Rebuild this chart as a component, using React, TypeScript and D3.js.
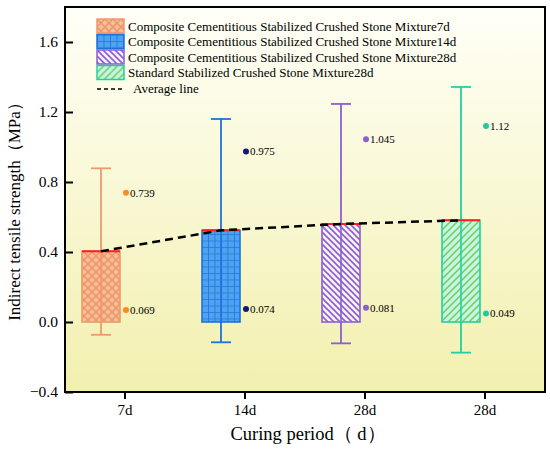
import * as d3 from 'd3';
import React, { useEffect, useRef } from 'react';

const categories = ['7d', '14d', '28d', '28d'];
const seriesNames = [
    'Composite Cementitious Stabilized Crushed Stone Mixture7d',
    'Composite Cementitious Stabilized Crushed Stone Mixture14d',
    'Composite Cementitious Stabilized Crushed Stone Mixture28d',
    'Standard Stabilized Crushed Stone Mixture28d',
];
const means = [0.404, 0.524, 0.56, 0.581];
const whiskerHigh = [0.878, 1.16, 1.246, 1.343];
const whiskerLow = [-0.073, -0.116, -0.122, -0.175];
const maxValues = [0.739, 0.975, 1.045, 1.12];
const minValues = [0.069, 0.074, 0.081, 0.049];
const yTicks = [-0.4, 0, 0.4, 0.8, 1.2, 1.6];

const edgeColors = ['#f0986c', '#1f72db', '#8b5fd3', '#22cfa5'];
const dotColors = ['#ff8a1f', '#101a70', '#8a60d0', '#20c9a0'];
const patternIds = ['pat-cross', 'pat-grid', 'pat-back', 'pat-fwd'];

const width = 550;
const height = 449;
const margin = { top: 7, right: 5, bottom: 57, left: 65 };
const font = '"Liberation Serif", "Times New Roman", serif';

export default function App() {
    const xAxisRef = useRef<SVGGElement>(null);
    const yAxisRef = useRef<SVGGElement>(null);

    const x = d3
        .scaleBand()
        .domain(categories.map((_, i) => String(i)))
        .range([margin.left, width - margin.right])
        .padding(0);
    const y = d3
        .scaleLinear()
        .domain([-0.4, 1.8])
        .range([height - margin.bottom, margin.top]);

    const center = (i: number) => x(String(i))! + x.bandwidth() / 2;
    const boxX = (i: number) => center(i) - 24; // boxes sit left of the tick
    const boxW = 38;
    const capW = 20;

    useEffect(() => {
        const xAxis = d3
            .axisBottom(x)
            .tickSizeInner(7)
            .tickSizeOuter(0)
            .tickPadding(5)
            .tickFormat((d) => categories[+d]);
        d3.select(xAxisRef.current!)
            .call(xAxis)
            .call((g) => g.select('.domain').remove())
            .call((g) => g.selectAll('line').attr('stroke-width', 2))
            .call((g) =>
                g.selectAll('text').attr('font-family', font).attr('font-size', 15).attr('fill', '#000'),
            );

        const yAxis = d3
            .axisLeft(y)
            .tickValues(yTicks)
            .tickSizeInner(-8)
            .tickSizeOuter(0)
            .tickPadding(7)
            .tickFormat(d3.format('.1f'));
        d3.select(yAxisRef.current!)
            .call(yAxis)
            .call((g) => g.select('.domain').remove())
            .call((g) => g.selectAll('line').attr('stroke-width', 2))
            .call((g) =>
                g.selectAll('text').attr('font-family', font).attr('font-size', 15.5).attr('fill', '#000'),
            );
    }, []);

    const avgLine = d3
        .line<number>()
        .x((_, i) => boxX(i))
        .y((d) => y(d));

    const plotW = width - margin.left - margin.right;
    const plotH = height - margin.top - margin.bottom;

    return (
        <svg
            width={width}
            height={height}
            style={{ position: 'absolute', left: 0, top: 0, background: '#fff' }}
        >
            <defs>
                <linearGradient id="bg" x1="0" y1="0" x2="0" y2="1">
                    <stop offset="0%" stopColor="#fffff8" />
                    <stop offset="100%" stopColor="#f2f0ae" />
                </linearGradient>
                <pattern id="pat-cross" patternUnits="userSpaceOnUse" width="8" height="8">
                    <rect width="8" height="8" fill="#f8be9a" />
                    <path d="M0,0L8,8M8,0L0,8" stroke="#ee9364" strokeWidth="1.4" />
                </pattern>
                <pattern id="pat-grid" patternUnits="userSpaceOnUse" width="6.5" height="6.5">
                    <rect width="6.5" height="6.5" fill="#4da3ef" />
                    <path d="M0,0H6.5M0,0V6.5" stroke="#2474dc" strokeWidth="1.6" />
                </pattern>
                <pattern id="pat-back" patternUnits="userSpaceOnUse" width="6" height="6">
                    <rect width="6" height="6" fill="#fbf2ff" />
                    <path d="M-1,-1L7,7M-1,5L1,7M5,-1L7,1" stroke="#8b5fd3" strokeWidth="1.6" />
                </pattern>
                <pattern id="pat-fwd" patternUnits="userSpaceOnUse" width="7" height="7">
                    <rect width="7" height="7" fill="#c8f5e2" />
                    <path d="M-1,8L8,-1M-1,1L1,-1M6,8L8,6" stroke="#6ccf5e" strokeWidth="1.5" />
                </pattern>
            </defs>

            <rect x={margin.left} y={margin.top} width={plotW} height={plotH} fill="url(#bg)" />

            {means.map((m, i) => (
                <g key={i}>
                    <line
                        x1={boxX(i)}
                        x2={boxX(i)}
                        y1={y(whiskerLow[i])}
                        y2={y(whiskerHigh[i])}
                        stroke={edgeColors[i]}
                        strokeWidth={1.8}
                    />
                    <line
                        x1={boxX(i) - capW / 2}
                        x2={boxX(i) + capW / 2}
                        y1={y(whiskerHigh[i])}
                        y2={y(whiskerHigh[i])}
                        stroke={edgeColors[i]}
                        strokeWidth={1.8}
                    />
                    <line
                        x1={boxX(i) - capW / 2}
                        x2={boxX(i) + capW / 2}
                        y1={y(whiskerLow[i])}
                        y2={y(whiskerLow[i])}
                        stroke={edgeColors[i]}
                        strokeWidth={1.8}
                    />
                    <rect
                        x={boxX(i) - boxW / 2}
                        y={y(m)}
                        width={boxW}
                        height={y(0) - y(m)}
                        fill={`url(#${patternIds[i]})`}
                        stroke={edgeColors[i]}
                        strokeWidth={1.6}
                    />
                    <line
                        x1={boxX(i)}
                        x2={boxX(i)}
                        y1={y(m)}
                        y2={y(0)}
                        stroke={edgeColors[i]}
                        strokeWidth={1.6}
                    />
                    <line
                        x1={boxX(i) - boxW / 2}
                        x2={boxX(i) + boxW / 2}
                        y1={y(m)}
                        y2={y(m)}
                        stroke="#ff1e1e"
                        strokeWidth={2}
                    />
                    {[maxValues[i], minValues[i]].map((v, j) => (
                        <g key={j}>
                            <circle cx={center(i) + 1} cy={y(v)} r={3} fill={dotColors[i]} />
                            <text
                                x={center(i) + 5}
                                y={y(v) + 4}
                                fontFamily={font}
                                fontSize={11}
                                fill="#000"
                            >
                                {String(v)}
                            </text>
                        </g>
                    ))}
                </g>
            ))}

            <path
                d={avgLine(means)!}
                fill="none"
                stroke="#000"
                strokeWidth={2.5}
                strokeDasharray="8,5"
            />

            <rect
                x={margin.left}
                y={margin.top}
                width={plotW}
                height={plotH}
                fill="none"
                stroke="#000"
                strokeWidth={2}
            />
            <g ref={yAxisRef} transform={`translate(${margin.left},0)`} />
            <g ref={xAxisRef} transform={`translate(0,${height - margin.bottom})`} />

            {/* legend */}
            <g fontFamily={font} fontSize={13}>
                {seriesNames.map((name, i) => (
                    <g key={name} transform={`translate(97,${19 + i * 15.5})`}>
                        <rect
                            width={27}
                            height={14}
                            fill={`url(#${patternIds[i]})`}
                            stroke={edgeColors[i]}
                            strokeWidth={1.5}
                        />
                        <text x={31} y={11.5} fill="#000">
                            {name}
                        </text>
                    </g>
                ))}
                <line x1={97} x2={124} y1={89} y2={89} stroke="#000" strokeWidth={1.5} strokeDasharray="4,3" />
                <text x={133} y={93} fill="#000">
                    Average line
                </text>
            </g>

            <text
                transform={`translate(20,${(margin.top + height - margin.bottom) / 2 + 8}) rotate(-90)`}
                textAnchor="middle"
                fontFamily={font}
                fontSize={17}
                fill="#000"
            >
                Indirect tensile strength（MPa）
            </text>
            <text
                x={(margin.left + width - margin.right) / 2 + 3}
                y={440}
                textAnchor="middle"
                fontFamily={font}
                fontSize={18.5}
                fill="#000"
            >
                Curing period（ d）
            </text>
        </svg>
    );
}
